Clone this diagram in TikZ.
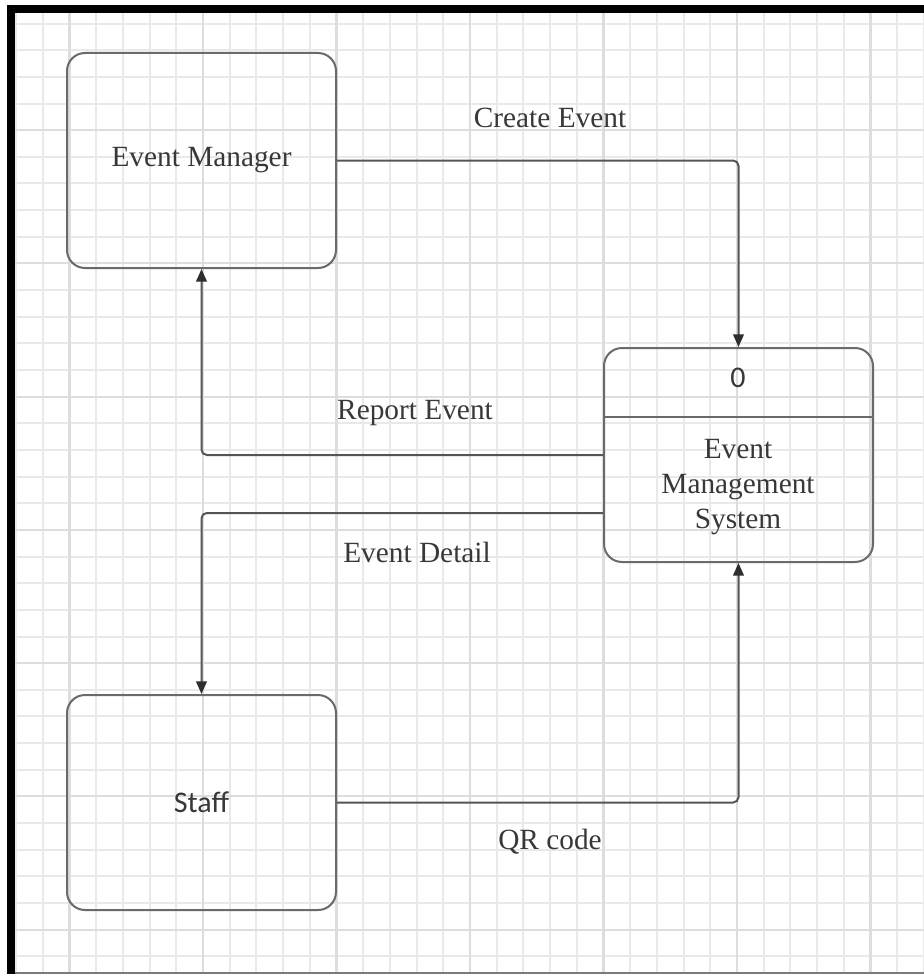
\documentclass[tikz,border=0pt]{standalone}
\usepackage{fontspec}
\setmainfont{Liberation Serif}
\newfontfamily\sansf{Carlito}
\usetikzlibrary{arrows.meta,calc}
\definecolor{gridminor}{HTML}{E9E9E9}
\definecolor{gridmajor}{HTML}{DDDDDD}
\definecolor{boxline}{HTML}{6A6A6A}
\definecolor{flowline}{HTML}{555555}
\definecolor{arrowink}{HTML}{2E2E2E}
\definecolor{ink}{HTML}{383838}
\definecolor{frameline}{HTML}{7A7A7A}
\tikzset{
  entity/.style={draw=boxline, line width=1.5pt, rounded corners=13.5pt,
    minimum width=201.75pt, minimum height=161.25pt, inner sep=0pt},
  lbl/.style={text=ink, font=\fontsize{22}{26}\selectfont, inner sep=0pt, align=center},
  sanslbl/.style={lbl, font=\sansf\fontsize{22.5}{26}\selectfont},
  flow/.style={draw=flowline, line width=1.5pt, rounded corners=4pt,
    -{Triangle[length=9.5pt,width=8pt,color=arrowink]}},
}
\begin{document}
\begin{tikzpicture}[x=0.75pt,y=-0.75pt]
  \useasboundingbox (0,0) rectangle (924,974);
  \fill[white] (0,0) rectangle (924,974);

  % squared paper
  \begin{scope}
    \clip (15,13) rectangle (924,972);
    \draw[gridminor, line width=1.5pt]
      \foreach \i in {-27,...,7} {(737+26.7*\i,13) -- (737+26.7*\i,972)}
      \foreach \j in {-33,...,2} {(15,903+26.65*\j) -- (924,903+26.65*\j)};
    \draw[gridmajor, line width=1.6pt]
      \foreach \i in {-25,-20,...,5} {(737+26.7*\i,13) -- (737+26.7*\i,972)}
      \foreach \j in {-29,-24,...,1} {(15,903+26.65*\j) -- (924,903+26.65*\j)};
  \end{scope}

  % frame
  \fill[black] (7,5) rectangle (924,13);
  \fill[black] (7,5) rectangle (15,974);
  \fill[frameline] (15,971.5) rectangle (924,974);

  % external entities and the process
  \node[entity, lbl] (manager) at (201.5,160.5) {Event Manager};
  \node[entity, sanslbl] (staff) at (201.5,802.5) {Staff};
  \node[entity, minimum height=160.5pt] (ems) at (738.5,455) {};
  \coordinate (divy) at (0,417);
  \draw[boxline, line width=1.5pt] (ems.west |- divy) -- (ems.east |- divy);
  \node[sanslbl] (emsnum) at (738,378) {0};
  \node[lbl] (emsname) at (738,487) {Event\\Management\\System};

  % data flows
  \draw[flow] (manager.east) -| (ems.north);
  \draw[flow] (ems.west) -| (manager.south);
  \coordinate (detailout) at ($(ems.west)+(0,58)$);
  \draw[flow] (detailout) -| (staff.north);
  \draw[flow] (staff.east) -| (ems.south);

  % flow labels
  \node[lbl] (lcreate) at (550,118) {Create Event};
  \node[lbl] (lreport) at (415,413) {Report Event};
  \node[lbl] (ldetail) at (417,552) {Event Detail};
  \node[lbl] (lqr) at (550,842) {QR code};
\end{tikzpicture}
\end{document}
